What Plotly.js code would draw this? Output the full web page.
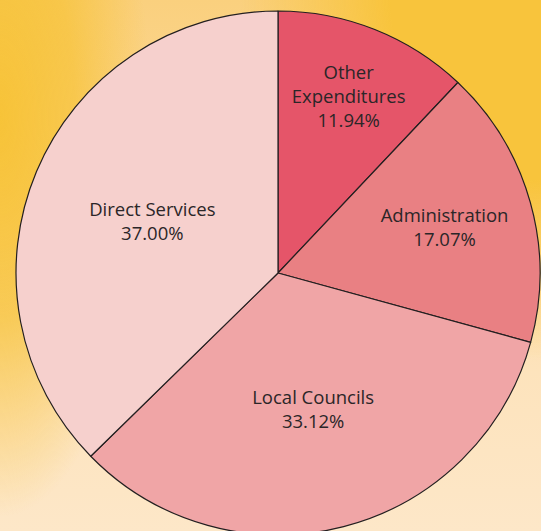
<!DOCTYPE html>
<html>
<head>
<meta charset="utf-8">
<script src="https://cdn.plot.ly/plotly-3.0.1.min.js"></script>
<style>
  html, body { margin: 0; padding: 0; width: 541px; height: 531px; overflow: hidden; }
  body {
    background:
      radial-gradient(ellipse 300px 360px at 100% 0%, #F8C43C 0%, #F8C43C 50%, rgba(248,196,60,0) 100%),
      radial-gradient(ellipse 150px 400px at 0% 22%, #F7C338 0%, rgba(247,195,56,0.75) 50%, rgba(247,195,56,0) 100%),
      linear-gradient(to bottom, #FAD07E 0%, #FCDA9E 40%, #FDE3BC 70%, #FDE7C8 100%);
  }
  #chart { position: absolute; left: 0; top: 0; width: 541px; height: 546px; }
</style>
</head>
<body>
<div id="chart"></div>
<script>
const categories = ["Other Expenditures", "Administration", "Local Councils", "Direct Services"];
const displayLabels = ["Other<br>Expenditures", "Administration", "Local Councils", "Direct Services"];
const percentages = [11.94, 17.07, 33.12, 37.00];
const sliceColors = ["#E55569", "#E98083", "#F0A5A6", "#F6D0CD"];

const labelText = displayLabels.map((l, i) => l + "<br>" + percentages[i].toFixed(2) + "%");

const W = 541, H = 546;
const cx = 278, cy = 273, R = 262;

const trace = {
  type: "pie",
  labels: categories,
  values: percentages,
  text: labelText,
  textinfo: "text",
  textposition: "inside",
  insidetextorientation: "horizontal",
  sort: false,
  direction: "clockwise",
  rotation: 0,
  marker: { colors: sliceColors, line: { color: "#231F20", width: 1.2 } },
  textfont: { family: "'Open Sans', sans-serif", size: 18.5, color: "#2B2628" },
  domain: { x: [(cx - R) / W, (cx + R) / W], y: [1 - (cy + R) / H, 1 - (cy - R) / H] },
  hoverinfo: "none"
};

const layout = {
  width: W, height: H,
  margin: { l: 0, r: 0, t: 0, b: 0 },
  paper_bgcolor: "rgba(0,0,0,0)",
  plot_bgcolor: "rgba(0,0,0,0)",
  showlegend: false
};

Plotly.newPlot("chart", [trace], layout, { displayModeBar: false, staticPlot: true });
</script>
</body>
</html>
